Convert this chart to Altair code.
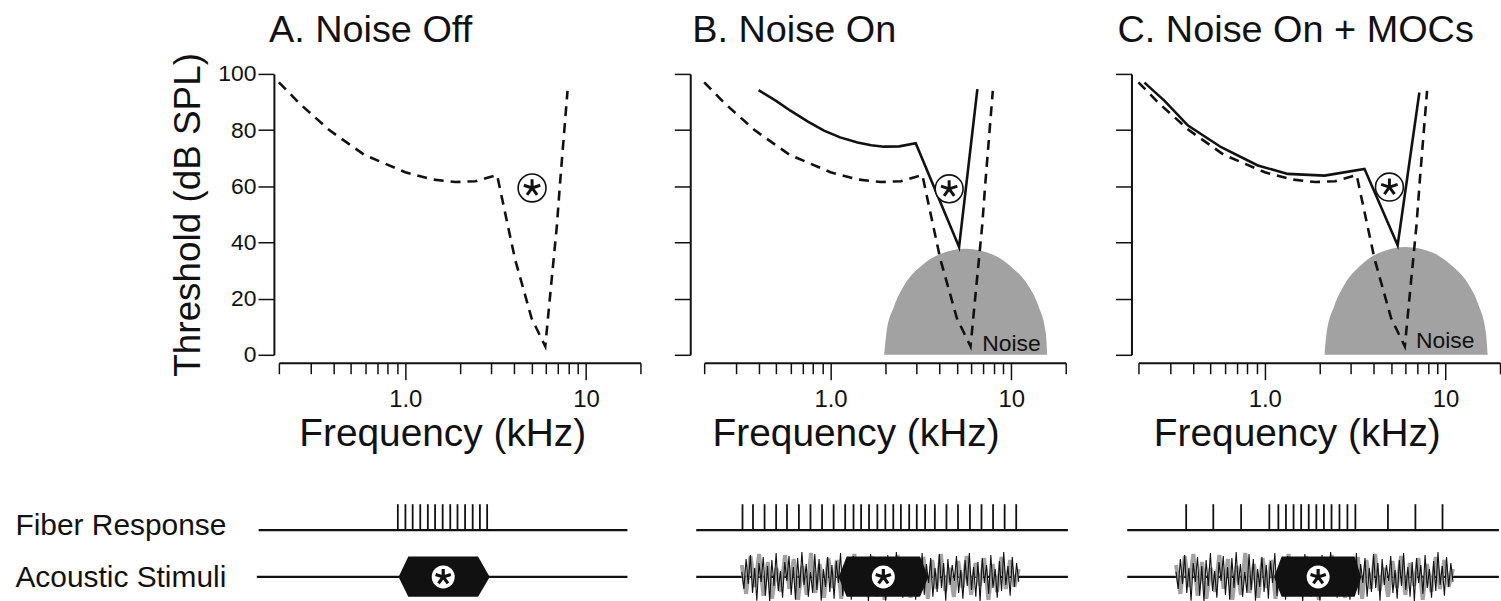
import altair as alt
import pandas as pd

FONT = "Liberation Sans"
INK = "#111111"
GREY = "#a2a2a2"

# ---------------- top panels: tuning curves ----------------
panel_titles = ["A. Noise Off", "B. Noise On", "C. Noise On + MOCs"]
x_ticks = [0.2, 0.3, 0.4, 0.5, 0.6, 0.7, 0.8, 0.9, 1, 2, 3, 4, 5, 6, 7, 8, 9, 10, 20]
y_ticks = [0, 20, 40, 60, 80, 100]

# noise-off threshold curve (dashed), kHz / dB SPL
off_f = [0.2, 0.26, 0.38, 0.59, 1.0, 1.42, 1.9, 2.45, 3.22, 4.05, 5.0, 5.95, 6.35, 6.9, 7.2, 7.9]
off_db = [97, 89.5, 80, 71.3, 65, 62.4, 61.5, 61.8, 64, 34, 13, 3, 22, 46, 62, 94]

# noise-on threshold curve (solid, panel B)
on_f = [0.40, 0.50, 0.60, 0.75, 0.92, 1.13, 1.41, 1.68, 1.98, 2.4, 2.96, 5.14, 6.49]
on_db = [94.2, 90.4, 86.9, 83.0, 79.8, 77.4, 75.6, 74.6, 74.1, 74.2, 75.3, 38.4, 94.6]

# noise-on + MOC threshold curve (solid, panel C)
moc_f = [0.216, 0.279, 0.376, 0.574, 0.915, 1.34, 2.14, 3.56, 5.43, 7.16]
moc_db = [96.9, 90.4, 81.6, 73.9, 67.4, 64.4, 63.8, 66.2, 39, 93.4]

# masking-noise spectrum (grey dome)
domeB_f = [1.98, 2.04, 2.24, 2.57, 3.16, 3.98, 5.6, 7.94, 10.0, 12.3, 14.1, 15.5, 15.8]
domeB_db = [0, 8, 17, 25, 31.5, 35.7, 37.8, 35.6, 31.3, 25, 17.5, 8, 0]
domeC_f = [2.14, 2.2, 2.42, 2.78, 3.41, 4.3, 6.05, 8.58, 10.8, 13.3, 15.2, 16.7, 17.1]
domeC_db = [0, 8, 17.3, 25.4, 32, 36.3, 38.4, 36.2, 31.8, 25.4, 17.8, 8, 0]

# probe tone (circled asterisk)
tone_f = [5.03, 4.53, 4.89]
tone_db = [59.4, 59.1, 59.7]

# "Noise" labels
noise_lbl_f = [6.9, 6.85]
noise_lbl_db = [1.4, 2.5]

# ---------------- bottom strips (time axis 0..100) ----------------
spikes_A = [32.9, 35.0, 37.0, 39.1, 41.2, 43.2, 45.3, 47.4, 49.4, 51.5, 53.6, 55.6, 57.6]
spikes_B = [10.6, 13.5, 16.7, 19.9, 22.9, 26.2, 29.4, 32.6, 35.8, 39.0, 41.3, 43.4, 45.6, 47.9,
            50.1, 52.3, 54.4, 56.7, 58.8, 61.1, 63.8, 67.0, 70.2, 73.5, 76.7, 79.9, 83.1, 86.3]
spikes_C = [13.2, 20.7, 28.4, 36.2, 38.7, 40.8, 42.9, 45.0, 47.1, 49.2, 51.3, 53.4, 55.6, 57.8,
            60.0, 69.0, 76.6, 84.1]
fiber_span = {"A": [-5.6, 96.4], "B": [-2.2, 100.6], "C": [-3.1, 99.7]}
stim_span = {"A": [-6.1, 96.4], "B": [-2.2, 100.6], "C": [-3.1, 99.7]}
hex_t = {"A": [33.1, 35.8, 55.1, 58.3], "B": [37.2, 39.4, 59.7, 62.0], "C": [37.5, 39.6, 59.8, 61.6]}
hex_top = [23, 43.5, 43.5, 23]
hex_bot = [23, 3, 3, 23]
FIBER_Y, SPIKE_TOP, STIM_Y = 70, 96, 23

noise_start, noise_end = 10.4, 87.0
noise_black = [5, -12, 18, -7, 22, -16, 9, -24, 14, -5, 20, -19, 11, -25, 17, -9, 24, -14, 6, -21,
               15, -4, 21, -18, 10, -23, 19, -11, 25, -8, 13, -20, 5, -16, 23, -13, 18, -24, 8, -10,
               20, -15, 12, -22, 16, -6, 24, -19, 9, -14, 15, -23, 21, -5, 13, -18, 19, -11, 6, -25,
               23, -9, 14, -20, 18, -15, 8, -24, 22, -12, 11, -17, 25, -7, 15, -21, 10, -19, 20, -14,
               5, -23, 17, -10, 24, -18, 13, -6, 19, -20, 9, -15, 23, -11, 14, -24, 18, -8, 12, -4,
               21, -16, 7, -22, 17, -9, 24, -13, 10, -20, 15, -25, 19, -6, 12, -17, 22, -11, 8, -21,
               16, -14, 25, -8, 11, -19, 20, -10, 14, -5]
noise_grey = [12, -17, 21, -10, 23, -19, 15, -22, 9, -15, 22, -12, 18, -23, 11, -18, 24, -16, 13, -21,
              19, -11, 17, -22, 10, -14, 23, -19, 16, -17, 21, -15, 12, -23, 18, -10, 22, -18, 15, -21,
              11, -16, 20, -22, 17, -12, 23, -14, 9, -20, 16, -11, 21, -18, 14, -9, 19, -23, 13, -15,
              20, -12, 17, -10, 8]

ASTERISK = ("M0,0L0,-1M0,0L0.951,-0.309M0,0L0.588,0.809"
            "M0,0L-0.588,0.809M0,0L-0.951,-0.309")

W = 363
H = 282


def top_panel(idx, solid=None, dome=None, lbl=None, y_labels=False, y_offset=5,
              title_x=160, title_dx=-10, title_offset=23):
    x_axis = alt.Axis(
        values=x_ticks,
        labelExpr="datum.value == 1 ? '1.0' : (datum.value == 10 ? '10' : '')",
        labelOverlap=False, labelFlush=False,
        tickSize={"condition": {"test": "datum.value == 1 || datum.value == 10", "value": 17},
                  "value": 11},
        tickColor=INK, tickWidth=1.5, domainColor=INK, domainWidth=2, offset=8,
        labelFont=FONT, labelFontSize=24, labelColor=INK, labelPadding=8,
        title="Frequency (kHz)", titleFont=FONT, titleFontSize=39, titleFontWeight="normal",
        titleColor=INK, titlePadding=3, titleX=title_x, grid=False,
    )
    if y_labels:
        y_axis = alt.Axis(values=y_ticks, tickSize=16, tickColor=INK, tickWidth=1.5,
                          domainColor=INK, domainWidth=2, offset=y_offset,
                          labelFont=FONT, labelFontSize=23, labelColor=INK, labelPadding=2,
                          title="Threshold (dB SPL)", titleFont=FONT, titleFontSize=37,
                          titleFontWeight="normal", titleColor=INK, titlePadding=10, grid=False)
    else:
        y_axis = alt.Axis(values=y_ticks, tickSize=16, tickColor=INK, tickWidth=1.5,
                          domainColor=INK, domainWidth=2, offset=y_offset,
                          labels=False, title=None, grid=False)
    X = alt.X("f:Q", scale=alt.Scale(type="log", domain=[0.2, 20]), axis=x_axis)
    Y = alt.Y("db:Q", scale=alt.Scale(domain=[0, 100]), axis=y_axis)

    layers = []
    if dome is not None:
        d = pd.DataFrame({"f": dome[0], "db": dome[1], "b": [0] * len(dome[0])})
        layers.append(alt.Chart(d).mark_area(color=GREY, opacity=1, interpolate="monotone")
                      .encode(x=X, y=Y, y2="b:Q"))
    doff = pd.DataFrame({"f": off_f, "db": off_db, "o": list(range(len(off_f)))})
    layers.append(alt.Chart(doff).mark_line(color=INK, strokeWidth=2.6, strokeDash=[10, 7])
                  .encode(x=X, y=Y, order="o:Q"))
    if solid is not None:
        ds = pd.DataFrame({"f": solid[0], "db": solid[1], "o": list(range(len(solid[0])))})
        layers.append(alt.Chart(ds).mark_line(color=INK, strokeWidth=2.6)
                      .encode(x=X, y=Y, order="o:Q"))
    dt = pd.DataFrame({"f": [tone_f[idx]], "db": [tone_db[idx]]})
    layers.append(alt.Chart(dt).mark_point(shape="circle", filled=True, fill="white", stroke=INK,
                                           strokeWidth=1.6, size=784, opacity=1)
                  .encode(x=X, y=Y))
    layers.append(alt.Chart(dt).mark_point(shape=ASTERISK, filled=False, stroke=INK,
                                           strokeWidth=3, size=300, opacity=1)
                  .encode(x=X, y=Y))
    if lbl is not None:
        dl = pd.DataFrame({"f": [lbl[0]], "db": [lbl[1]], "t": ["Noise"]})
        layers.append(alt.Chart(dl).mark_text(align="left", baseline="alphabetic", font=FONT,
                                              fontSize=23, color=INK)
                      .encode(x=X, y=Y, text="t:N"))
    return alt.layer(*layers).properties(
        width=W, height=H,
        title=alt.TitleParams(panel_titles[idx], anchor="start", frame="group", font=FONT,
                              fontSize=38, fontWeight="normal", color=INK, dx=title_dx,
                              offset=title_offset),
    )


def strip(key, spikes, noise, labels):
    if labels:
        y_axis = alt.Axis(values=[75, 22],
                          labelExpr="datum.value > 50 ? 'Fiber Response' : 'Acoustic Stimuli'",
                          labelAlign="left", labelBaseline="middle", labelPadding=265,
                          labelLimit=400, ticks=False, tickSize=0, domain=False, grid=False,
                          title=None, labelFont=FONT, labelFontSize=30, labelColor=INK,
                          labelOverlap=False)
    else:
        y_axis = None
    X = alt.X("t:Q", scale=alt.Scale(domain=[0, 100]), axis=None)
    Y = alt.Y("v:Q", scale=alt.Scale(domain=[0, 100]), axis=y_axis)

    base = pd.DataFrame({"t": [fiber_span[key][0], stim_span[key][0]],
                         "t2": [fiber_span[key][1], stim_span[key][1]],
                         "v": [FIBER_Y, STIM_Y]})
    layers = [alt.Chart(base).mark_rule(color=INK, strokeWidth=2.2)
              .encode(x=X, x2="t2:Q", y=Y)]
    sp = pd.DataFrame({"t": spikes, "v": [FIBER_Y] * len(spikes), "v2": [SPIKE_TOP] * len(spikes)})
    layers.append(alt.Chart(sp).mark_rule(color=INK, strokeWidth=1.8)
                  .encode(x=X, y=Y, y2="v2:Q"))
    if noise:
        ng = len(noise_grey)
        dg = pd.DataFrame({"t": [noise_start + i * (noise_end - noise_start) / (ng - 1) for i in range(ng)],
                           "v": [STIM_Y + a for a in noise_grey]})
        layers.append(alt.Chart(dg).mark_line(color=GREY, strokeWidth=4)
                      .encode(x=X, y=Y))
        nb = len(noise_black)
        db_ = pd.DataFrame({"t": [noise_start + i * (noise_end - noise_start) / (nb - 1) for i in range(nb)],
                            "v": [STIM_Y + a for a in noise_black]})
        layers.append(alt.Chart(db_).mark_line(color=INK, strokeWidth=1.1)
                      .encode(x=X, y=Y))
    hx = pd.DataFrame({"t": hex_t[key], "v": hex_top, "v2": hex_bot})
    layers.append(alt.Chart(hx).mark_area(color=INK, opacity=1).encode(x=X, y=Y, y2="v2:Q"))
    c = pd.DataFrame({"t": [(hex_t[key][1] + hex_t[key][2]) / 2], "v": [STIM_Y]})
    layers.append(alt.Chart(c).mark_point(shape="circle", filled=True, fill="white",
                                          size=530, opacity=1, strokeWidth=0)
                  .encode(x=X, y=Y))
    layers.append(alt.Chart(c).mark_point(shape=ASTERISK, filled=False, stroke=INK,
                                          strokeWidth=3.2, size=260, opacity=1)
                  .encode(x=X, y=Y))
    return alt.layer(*layers).properties(width=W, height=100)


topA = top_panel(0, y_labels=True, y_offset=5, title_x=164, title_dx=-10, title_offset=3)
topB = top_panel(1, solid=(on_f, on_db), dome=(domeB_f, domeB_db),
                 lbl=(noise_lbl_f[0], noise_lbl_db[0]), y_offset=14, title_x=152, title_dx=-12)
topC = top_panel(2, solid=(moc_f, moc_db), dome=(domeC_f, domeC_db),
                 lbl=(noise_lbl_f[1], noise_lbl_db[1]), y_offset=7, title_x=159, title_dx=-21)

SP = 47
colA = alt.vconcat(topA, strip("A", spikes_A, False, True), spacing=SP)
colB = alt.vconcat(topB, strip("B", spikes_B, True, False), spacing=SP)
colC = alt.vconcat(topC, strip("C", spikes_C, True, False), spacing=SP)

chart = alt.hconcat(alt.hconcat(colA, colB, spacing=32), colC, spacing=45).configure(
    background="white",
    padding={"left": 15, "top": 10, "right": 0, "bottom": 0},
).configure_view(stroke=None)

chart.save("out.html", embed_options={"renderer": "svg", "actions": False})
